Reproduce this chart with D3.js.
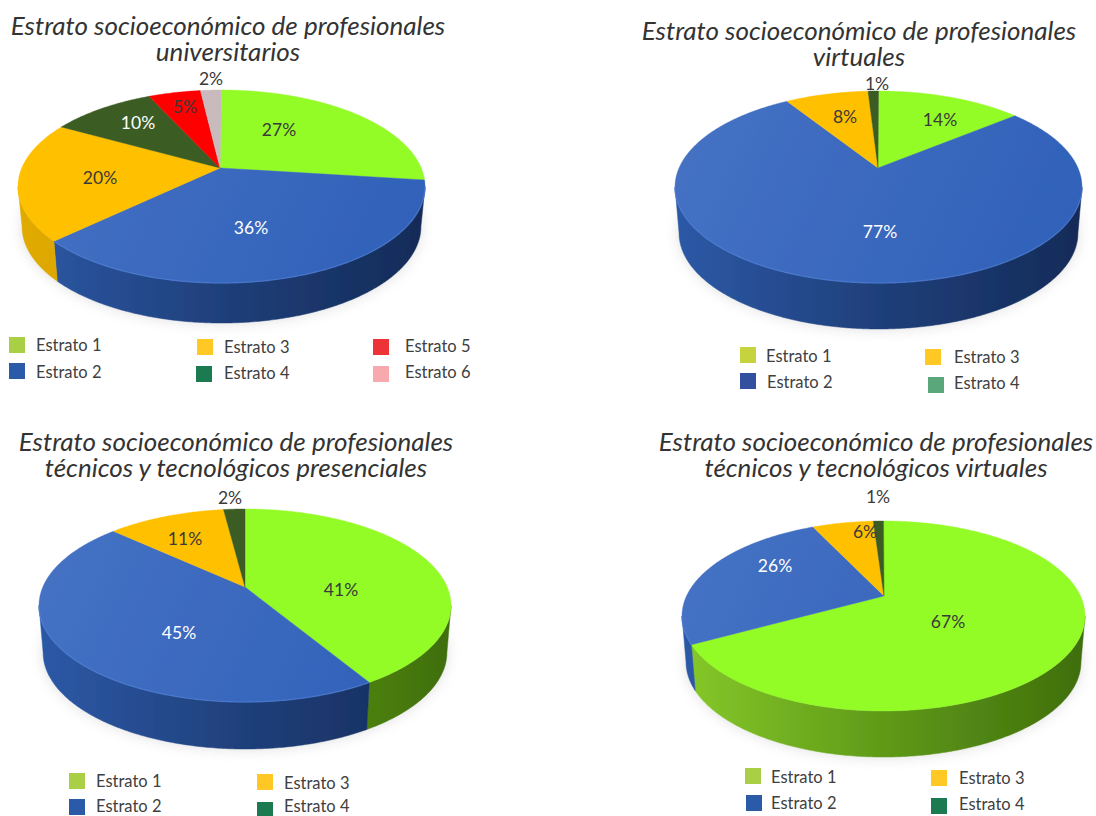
<!DOCTYPE html>
<html><head><meta charset="utf-8">
<script src="https://cdn.jsdelivr.net/npm/d3@7/dist/d3.min.js"></script>
<style>html,body{margin:0;background:#fff}svg{display:block}text{font-family:Lato,"Open Sans",sans-serif}</style>
</head><body><svg id="c" width="1096" height="816"></svg>
<script>
const categories = ["Estrato 1","Estrato 2","Estrato 3","Estrato 4","Estrato 5","Estrato 6"];
const valuesUniv = [27,36,20,10,5,2];
const valuesVirt = [14,77,8,1];
const valuesTecP = [41,45,11,2];
const valuesTecV = [67,26,6,1];
const titleUniv = ["Estrato socioeconómico de profesionales","universitarios"];
const titleVirt = ["Estrato socioeconómico de profesionales","virtuales"];
const titleTecP = ["Estrato socioeconómico de profesionales","técnicos y tecnológicos presenciales"];
const titleTecV = ["Estrato socioeconómico de profesionales","técnicos y tecnológicos virtuales"];

const sliceColors = ["#93fb25","#3f6fc4","#ffc000","#3b5c22","#fe0000","#c9babd"];
const legendDefault = ["#a9d044","#2b5aa8","#ffc825","#1b7a50","#ee3338","#f7a9ae"];
const legendVirt = ["#c5d33e","#33509f","#ffc825","#5aa77b"];
const wallStops = [
  ["#86c82a","#5f9a18","#3f6e0c"],
  ["#2c59a6","#1f3f7a","#142b58"],
  ["#e0aa04","#d09c06","#b98a08"],
  ["#2e4a1a","#2e4a1a","#2e4a1a"],
  ["#b00000","#b00000","#b00000"],
  ["#9c8e90","#9c8e90","#9c8e90"]
];
const labelWhite = {"36%":1,"77%":1,"45%":1,"26%":1,"10%":1};

const layouts = [
 {values:valuesUniv,title:titleUniv,titleX:228,titleY:[35,61],
  left:18,right:425,apexX:220,apexY:168,top:90,frontY:283,depth:40,legend:legendDefault,
  labels:[[279,130],[251,228],[100,178],[138,123],[185,107],[211,79]],
  swatch:[[9,337],[9,363],[197,339],[196,366],[373,339],[373,366]],
  text:[[36,345],[36,372],[224,347],[224,373],[405,346],[405,372]]},
 {values:valuesVirt,title:titleVirt,titleX:859,titleY:[40,66],
  left:675,right:1082,apexX:878,apexY:168,top:91,frontY:283,depth:46,legend:legendVirt,
  labels:[[940,120],[880,232],[845,117],[877,84]],
  swatch:[[740,347],[740,373],[925,349],[928,377]],
  text:[[766,356],[767,382],[954,357],[954,383]]},
 {values:valuesTecP,title:titleTecP,titleX:236,titleY:[451,477],
  left:39,right:451,apexX:245,apexY:587,top:509,frontY:702,depth:47,legend:legendDefault,
  labels:[[341,590],[179,633],[185,539],[230,498]],
  swatch:[[69,773],[69,799],[257,774],[257,802]],
  text:[[96,781],[96,806],[284,783],[284,806.5]]},
 {values:valuesTecV,title:titleTecV,titleX:876,titleY:[451,477],
  left:682,right:1085,apexX:884,apexY:596,top:521,frontY:711,depth:46,legend:legendDefault,
  labels:[[948,622],[775,566],[865,532],[878,497]],
  swatch:[[745,768],[746,795],[931,770],[931,798]],
  text:[[771,777],[771,803],[959,778],[959,804]]}
];

const svg = d3.select("#c");
const defs = svg.append("defs");
defs.append("filter").attr("id","soft").attr("x","-20%").attr("y","-20%").attr("width","140%").attr("height","140%")
  .append("feGaussianBlur").attr("stdDeviation",7);
defs.append("filter").attr("id","aa").append("feGaussianBlur").attr("stdDeviation",0.5);

const pie = d3.pie().sort(null);
const line = d3.line();
const TAU = 2*Math.PI;
const TAPER = 0.98;

layouts.forEach((L,ci)=>{
  const g = svg.append("g");
  const up = L.apexY-L.top, dn = L.frontY-L.apexY;
  const k = up/dn, p = (1-k)/(1+k), S = up*(1+p);
  const R = (L.right-L.left)/2*Math.sqrt(1-p*p);
  const cx = (L.left+L.right)/2;
  const sx = d3.scaleLinear().domain([-1,1]).range([cx-R,cx+R]);
  const sy = d3.scaleLinear().domain([-1,1]).range([L.apexY+S,L.apexY-S]);
  const proj = t=>{
    const u=Math.sin(t), v=Math.cos(t), w=1+p*v;
    return [sx(u/w), sy(v/w)];
  };
  const base = t=>{const q=proj(t);return [cx+(q[0]-cx)*TAPER,q[1]+L.depth];};
  const arcPts = (a,b)=>{
    const n=Math.max(2,Math.ceil((b-a)/0.01));
    return d3.range(n+1).map(i=>a+(b-a)*i/n);
  };
  const arcs = pie(L.values);
  const fA = Math.acos(-p), fB = TAU-fA;

  // soft shadow
  g.append("path").attr("d",line(arcPts(0,TAU).map(base))+"Z")
   .attr("fill","#8a8a8a").attr("opacity",0.28).attr("filter","url(#soft)");

  // per-colour gradients
  wallStops.forEach((st,i)=>{
    const gr=defs.append("linearGradient").attr("id",`w${ci}_${i}`).attr("gradientUnits","userSpaceOnUse")
      .attr("x1",L.left).attr("x2",L.right).attr("y1",0).attr("y2",0);
    st.forEach((c,j)=>gr.append("stop").attr("offset",j/2).attr("stop-color",c));
  });
  const tg=defs.append("linearGradient").attr("id",`top${ci}`).attr("gradientUnits","userSpaceOnUse")
    .attr("x1",L.left).attr("y1",L.top).attr("x2",L.right).attr("y2",L.frontY);
  tg.append("stop").attr("offset",0).attr("stop-color","#4672c4");
  tg.append("stop").attr("offset",1).attr("stop-color","#2f60b8");

  const body = g.append("g").attr("filter","url(#aa)");
  // walls
  arcs.forEach((d,i)=>{
    const a=Math.max(d.startAngle,fA), b=Math.min(d.endAngle,fB);
    if(b<=a) return;
    const ts=arcPts(a,b);
    const upper=ts.map(proj);
    const lower=ts.slice().reverse().map(base);
    body.append("path").attr("d",line(upper.concat(lower))+"Z")
      .attr("fill",`url(#w${ci}_${i})`).attr("stroke",`url(#w${ci}_${i})`).attr("stroke-width",0.5);
  });
  // top face
  arcs.forEach((d,i)=>{
    const pts=[[L.apexX,L.apexY]].concat(arcPts(d.startAngle,d.endAngle).map(proj));
    body.append("path").attr("d",line(pts)+"Z")
      .attr("fill",i===1?`url(#top${ci})`:sliceColors[i])
      .attr("stroke",i===1?`url(#top${ci})`:sliceColors[i]).attr("stroke-width",0.4);
  });
  // light rim on the front edge of the blue slice
  {
    const d=arcs[1], a=Math.max(d.startAngle,fA), b=Math.min(d.endAngle,fB);
    if(b>a) body.append("path").attr("d",line(arcPts(a,b).map(proj))).attr("fill","none")
      .attr("stroke","#4f7fd6").attr("stroke-width",1.4).attr("opacity",0.6);
  }

  // percent labels
  g.selectAll("text.pct").data(L.values).join("text").attr("class","pct")
    .attr("x",(d,i)=>L.labels[i][0]).attr("y",(d,i)=>L.labels[i][1])
    .attr("dy","0.36em").attr("text-anchor","middle").attr("font-size",17.5)
    .attr("fill",d=>labelWhite[d+"%"]?"#ffffff":"#3a3a3a").text(d=>d+"%");

  // title
  g.selectAll("text.ttl").data(L.title).join("text").attr("class","ttl")
    .attr("x",L.titleX).attr("y",(d,i)=>L.titleY[i]).attr("text-anchor","middle")
    .attr("font-size",26).attr("font-style","italic").attr("fill","#333333").text(d=>d);

  // legend
  const lg=g.append("g");
  L.values.forEach((v,i)=>{
    lg.append("rect").attr("x",L.swatch[i][0]).attr("y",L.swatch[i][1]).attr("width",16).attr("height",16).attr("fill",L.legend[i]);
    lg.append("text").attr("x",L.text[i][0]).attr("y",L.text[i][1]).attr("dy","0.36em")
      .attr("font-size",16.5).attr("fill","#404040").text(categories[i]);
  });
});
</script></body></html>
